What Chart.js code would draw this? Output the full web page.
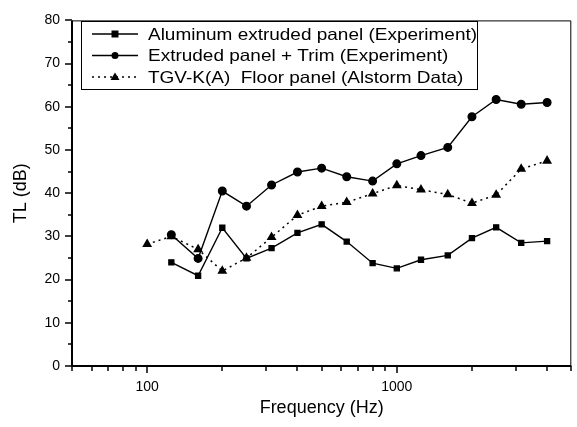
<!DOCTYPE html>
<html>
<head>
<meta charset="utf-8">
<script src="https://cdn.jsdelivr.net/npm/chart.js@4.4.1/dist/chart.umd.min.js"></script>
<style>
  html, body { margin: 0; padding: 0; background: #fff; }
  #wrap { width: 577px; height: 427px; }
</style>
</head>
<body>
<div id="wrap"><canvas id="tlChart" width="577" height="427"></canvas></div>
<script>
// 1/3 octave band centre frequencies (Hz)
const freqExp = [125, 160, 200, 250, 315, 400, 500, 630, 800, 1000, 1250, 1600, 2000, 2500, 3150, 4000];
const freqTGV = [100, 125, 160, 200, 250, 315, 400, 500, 630, 800, 1000, 1250, 1600, 2000, 2500, 3150, 4000];

// TL values (dB)
const tlAluminum = [24.0, 20.9, 32.0, 24.9, 27.3, 30.8, 32.8, 28.8, 23.8, 22.6, 24.6, 25.6, 29.6, 32.1, 28.5, 28.9];
const tlTrim     = [30.4, 24.9, 40.5, 37.0, 41.9, 44.9, 45.8, 43.8, 42.8, 46.8, 48.7, 50.6, 57.7, 61.7, 60.6, 61.0];
const tlTGV      = [28.2, 30.0, 27.0, 22.0, 25.0, 29.8, 34.9, 37.0, 37.9, 39.9, 41.8, 40.8, 39.7, 37.7, 39.6, 45.6, 47.5];

const seriesLabels = [
    'Aluminum extruded panel (Experiment)',
    'Extruded panel + Trim (Experiment)',
    'TGV-K(A)  Floor panel (Alstorm Data)'
];

const xLabels = [100, 1000];
const FONT = '"Liberation Sans", Arial, sans-serif';

function toPoints(xs, ys) {
    return xs.map((x, i) => ({ x: x, y: ys[i] }));
}

// log minor ticks 50..5000
function logTicks(min, max) {
    const out = [];
    for (let d = 10; d <= 1000; d *= 10) {
        for (let m = 1; m < 10; m++) {
            const v = d * m;
            if (v >= min && v <= max) out.push(v);
        }
    }
    return out;
}

// frame, tick marks and legend box inside the plot
const framePlugin = {
    id: 'frame',
    afterDraw(chart) {
        const ctx = chart.ctx;
        const a = chart.chartArea;
        const xs = chart.scales.x;
        const ys = chart.scales.y;
        ctx.save();
        ctx.strokeStyle = '#000';

        // right and top edges
        ctx.lineWidth = 1;
        ctx.beginPath();
        ctx.moveTo(a.left, a.top + 0.5);
        ctx.lineTo(a.right - 0.5, a.top + 0.5);
        ctx.lineTo(a.right - 0.5, a.bottom);
        ctx.stroke();

        // left and bottom axes
        ctx.lineWidth = 2;
        ctx.beginPath();
        ctx.moveTo(a.left, a.top);
        ctx.lineTo(a.left, a.bottom);
        ctx.lineTo(a.right, a.bottom);
        ctx.stroke();

        // x tick marks
        ctx.lineWidth = 1.5;
        logTicks(50, 5000).forEach(v => {
            const px = Math.round(xs.getPixelForValue(v));
            const len = xLabels.includes(v) ? 7 : 5;
            ctx.beginPath();
            ctx.moveTo(px, a.bottom);
            ctx.lineTo(px, a.bottom + len);
            ctx.stroke();
        });

        // y tick marks
        for (let v = 0; v <= 80; v += 5) {
            const py = Math.round(ys.getPixelForValue(v));
            const len = v % 10 === 0 ? 7 : 4;
            ctx.beginPath();
            ctx.moveTo(a.left - len, py);
            ctx.lineTo(a.left, py);
            ctx.stroke();
        }

        // legend
        const bx = 81, by = 21, bw = 396, bh = 68;
        ctx.lineWidth = 1;
        ctx.fillStyle = '#fff';
        ctx.fillRect(bx, by, bw, bh);
        ctx.strokeRect(bx + 0.5, by + 0.5, bw, bh);
        ctx.font = '16.5px ' + FONT;
        ctx.textBaseline = 'middle';
        chart.data.datasets.forEach((ds, i) => {
            const ly = by + 13 + i * 21.5;
            ctx.strokeStyle = '#000';
            ctx.lineWidth = ds.borderWidth;
            ctx.setLineDash(ds.borderDash || []);
            ctx.beginPath();
            ctx.moveTo(92, ly);
            ctx.lineTo(138, ly);
            ctx.stroke();
            ctx.setLineDash([]);
            ctx.fillStyle = '#000';
            const r = 3.5;
            ctx.beginPath();
            if (ds.pointStyle === 'rect') {
                ctx.rect(115 - r, ly - r, 2 * r, 2 * r);
            } else if (ds.pointStyle === 'triangle') {
                ctx.moveTo(115, ly - 4.5);
                ctx.lineTo(119.5, ly + 3);
                ctx.lineTo(110.5, ly + 3);
                ctx.closePath();
            } else {
                ctx.arc(115, ly, r, 0, Math.PI * 2);
            }
            ctx.fill();
            // the scanned type is wider than Arial, stretch it a bit
            ctx.save();
            ctx.translate(148, ly + 1);
            ctx.scale(1.15, 1);
            ctx.fillText(ds.label, 0, 0);
            ctx.restore();
        });
        ctx.restore();
    }
};

const ctx = document.getElementById('tlChart').getContext('2d');

new Chart(ctx, {
    type: 'line',
    data: {
        datasets: [{
            label: seriesLabels[0],
            data: toPoints(freqExp, tlAluminum),
            borderColor: '#000',
            backgroundColor: '#000',
            borderWidth: 1.4,
            pointStyle: 'rect',
            pointRadius: 3.5,
            tension: 0
        }, {
            label: seriesLabels[1],
            data: toPoints(freqExp, tlTrim),
            borderColor: '#000',
            backgroundColor: '#000',
            borderWidth: 1.4,
            pointStyle: 'circle',
            pointRadius: 3.8,
            tension: 0
        }, {
            label: seriesLabels[2],
            data: toPoints(freqTGV, tlTGV),
            borderColor: '#000',
            backgroundColor: '#000',
            borderWidth: 1.5,
            borderDash: [2, 4],
            pointStyle: 'triangle',
            pointRadius: 4.2,
            tension: 0
        }]
    },
    options: {
        responsive: false,
        animation: false,
        layout: { padding: { left: 0, right: 3, top: 15, bottom: 0 } },
        plugins: {
            legend: { display: false },
            tooltip: { enabled: false }
        },
        scales: {
            x: {
                type: 'logarithmic',
                min: 50,
                max: 5000,
                grid: { display: false, drawTicks: false },
                border: { display: false },
                afterBuildTicks: scale => {
                    scale.ticks = xLabels.map(v => ({ value: v }));
                },
                afterFit: scale => { scale.height = 61; },
                ticks: {
                    color: '#000',
                    font: { family: FONT, size: 14 },
                    padding: 13,
                    maxRotation: 0,
                    autoSkip: false,
                    callback: v => String(v)
                },
                title: {
                    display: true,
                    text: 'Frequency (Hz)',
                    color: '#000',
                    font: { family: FONT, size: 18 },
                    padding: { top: 0, bottom: 8 }
                }
            },
            y: {
                min: 0,
                max: 80,
                grid: { display: false, drawTicks: false },
                border: { display: false },
                afterFit: scale => { scale.width = 72; },
                ticks: {
                    stepSize: 10,
                    color: '#000',
                    font: { family: FONT, size: 14 },
                    padding: 12
                },
                title: {
                    display: true,
                    text: 'TL (dB)',
                    color: '#000',
                    font: { family: FONT, size: 18 },
                    padding: { top: 10, bottom: 0 }
                }
            }
        }
    },
    plugins: [framePlugin]
});
</script>
</body>
</html>
